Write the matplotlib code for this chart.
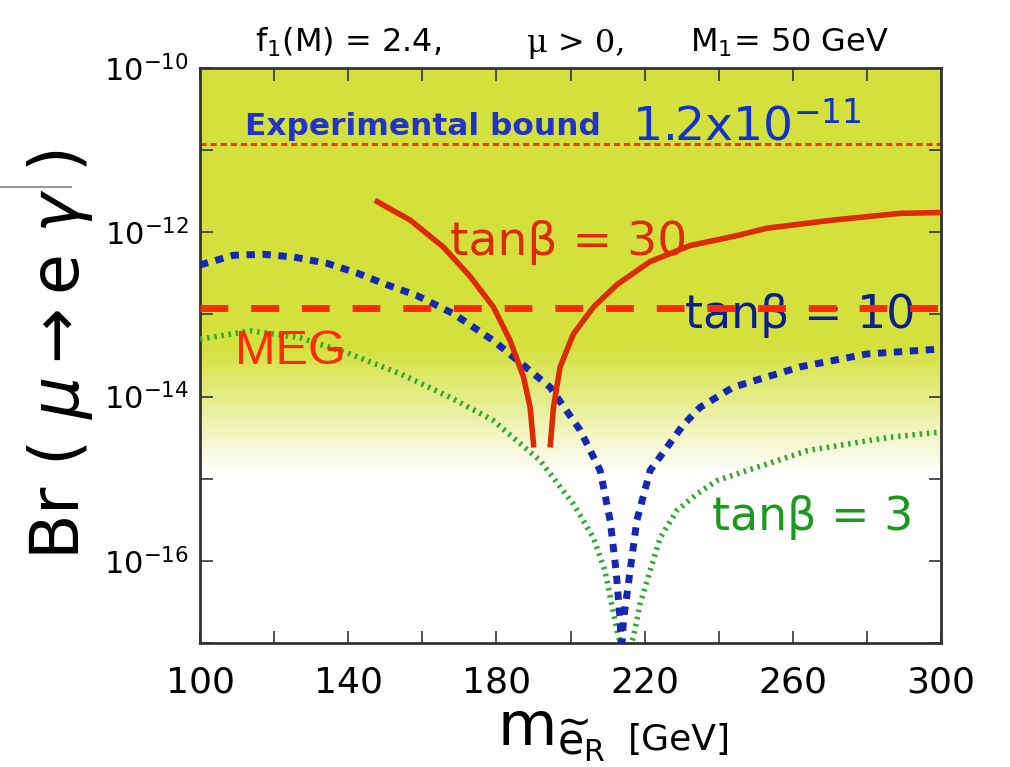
import numpy as np
import matplotlib
matplotlib.use('Agg')
import matplotlib.pyplot as plt
from matplotlib.colors import LinearSegmentedColormap
from matplotlib.lines import Line2D

plt.rcParams['font.family'] = ['DejaVu Sans']
plt.rcParams['mathtext.fontset'] = 'custom'
plt.rcParams['mathtext.rm'] = 'DejaVu Sans'
plt.rcParams['mathtext.it'] = 'DejaVu Sans:italic'

# tanb = 30 (dos ramas, rojo)
m30_izq = [147.2, 156.7, 165.7, 172.9, 179.2, 183.7, 187.3, 189.1, 190.1]
br30_izq = [2.45e-12, 1.41e-12, 6.6e-13, 2.9e-13, 1.23e-13, 4.8e-14, 1.74e-14, 7.4e-15, 2.4e-15]
m30_der = [194.5, 195.4, 197.2, 200.8, 206.2, 212.5, 221.5, 232.3, 244.9, 253.0, 270.9, 288.9, 300.0]
br30_der = [2.4e-15, 7.4e-15, 2.3e-14, 5.8e-14, 1.23e-13, 2.3e-13, 4.4e-13, 6.9e-13, 9.1e-13,
            1.12e-12, 1.41e-12, 1.7e-12, 1.74e-12]

# tanb = 10 (azul)
m10 = [100, 109, 117.1, 125.2, 134.2, 142.3, 150.4, 158.5, 168.4, 179.2, 194.5, 202.6, 208, 210.7,
       212.3, 213.4, 213.8, 214.3, 216.1, 217.9, 221.5, 226, 230.4, 235, 243.9, 262, 280, 300]
br10 = [4.0e-13, 5.25e-13, 5.4e-13, 5.0e-13, 4.2e-13, 3.2e-13, 2.3e-13, 1.7e-13, 1.02e-13, 4.8e-14,
        1.3e-14, 3.9e-15, 1.26e-15, 3.1e-16, 7.6e-17, 1.9e-17, 8e-18, 1.9e-17, 7.6e-17, 3.1e-16,
        1.26e-15, 2.4e-15, 4.5e-15, 7.4e-15, 1.3e-14, 2.3e-14, 3.3e-14, 3.8e-14]

# tanb = 3 (verde)
m3 = [100, 113.5, 127, 140.5, 154, 167.5, 179.2, 191.8, 200.8, 206.2, 209.3, 211.1, 212.9, 215.2,
      217, 218.8, 221.5, 224.2, 228.7, 234.1, 239.5, 264, 286.2, 300]
br3 = [5.0e-14, 6.3e-14, 5.2e-14, 3.3e-14, 1.9e-14, 9.8e-15, 5.1e-15, 1.66e-15, 4.9e-16, 1.9e-16,
       7.6e-17, 3.0e-17, 1.2e-17, 6.3e-18, 1.2e-17, 3.0e-17, 7.6e-17, 1.9e-16, 4.1e-16, 6.5e-16,
       9.5e-16, 2.2e-15, 3.2e-15, 3.7e-15]

cota_exp = 1.2e-11
cota_meg = 1.2e-13

xticks = [100, 140, 180, 220, 260, 300]
yticks = [1e-16, 1e-14, 1e-12, 1e-10]
yticklabels = [r'$10^{-16}$', r'$10^{-14}$', r'$10^{-12}$', r'$10^{-10}$']

fig = plt.figure(figsize=(10.1, 7.67), dpi=100)
ax = fig.add_axes([200/1010, 1-643/767, 741/1010, 575/767])

# fondo amarillo que se desvanece hacia abajo
ly = np.linspace(-17, -10, 400)
frac = np.clip((ly - (-14.95)) / ((-13.4) - (-14.95)), 0, 1)
cmap = LinearSegmentedColormap.from_list('fondo', ['#ffffff', '#d4e13c'])
ax.imshow(frac[::-1].reshape(-1, 1), cmap=cmap, aspect='auto', extent=[0, 1, 0, 1],
          transform=ax.transAxes, zorder=0, vmin=0, vmax=1)

ax.set_yscale('log')
ax.set_xlim(100, 300)
ax.set_ylim(1e-17, 1e-10)

ax.axhline(cota_exp, color='#ff3300', lw=2.2, ls=(0, (2.0, 1.3)), zorder=2)
ax.plot(m3, br3, color='#33a833', lw=4, ls=(0, (0.45, 0.85)), zorder=3)
ax.plot(m10, br10, color='#1428b4', lw=5, ls=(0, (1.2, 1.1)), zorder=4)
ax.plot(m30_izq, br30_izq, color='#dd2a00', lw=4, solid_capstyle='butt', zorder=5)
ax.plot(m30_der, br30_der, color='#dd2a00', lw=4, solid_capstyle='butt', zorder=5)
ax.axhline(cota_meg, color='#ff2a00', lw=5, ls=(0, (4, 3.3)), zorder=6)

ax.text(167.5, 10**-12.28, 'tanβ = 30', color='#dd2a00', fontsize=34, zorder=7)
ax.text(230.9, 10**-13.17, 'tanβ = 10', color='#0c1f8f', fontsize=33, zorder=5)
ax.text(238.2, 10**-15.63, 'tanβ = 3', color='#1a9a1a', fontsize=33, zorder=7)
ax.text(109.4, 10**-13.6, 'MEG', color='#ff2a00', fontsize=35, family='Liberation Sans', zorder=7)
ax.text(112.1, 10**-10.82, 'Experimental bound', color='#2233cc', fontsize=22.5,
        fontweight='bold', zorder=7)
ax.text(216.5, 10**-10.88, r'1.2x10$^{\mathregular{-11}}$', color='#1133cc', fontsize=34, zorder=7)

ax.set_xticks(xticks)
ax.set_xticks(np.arange(100, 301, 20), minor=True)
ax.set_xticklabels([str(v) for v in xticks])
ax.set_yticks(yticks)
ax.set_yticklabels(yticklabels)
ax.set_yticks([10.0**k for k in range(-17, -9)], minor=True)
ax.yaxis.set_minor_formatter(matplotlib.ticker.NullFormatter())
ax.tick_params(which='both', direction='in', top=True, right=True, length=9, width=1.2, color='#333333')
ax.tick_params(axis='x', labelsize=26, pad=16)
ax.tick_params(axis='y', labelsize=22, pad=8)
for s in ax.spines.values():
    s.set_linewidth(2)
    s.set_color('#333333')

fig.text(255/1010, 1-52/767, r'f$_\mathregular{1}$(M) = 2.4,', fontsize=23, va='baseline')
fig.text(527/1010, 1-52/767, 'μ > 0,', fontsize=23, family='DejaVu Serif', va='baseline')
fig.text(690/1010, 1-52/767, r'M$_\mathregular{1}$= 50 GeV', fontsize=23, va='baseline')

fig.text(60/1010, 1-355/767, r'Br ( $\mu$$\rightarrow$e $\gamma$ )', fontsize=48, rotation=90,
         ha='center', va='center')
fig.text(497/1010, 1-745/767, r'm$_{\widetilde{\mathrm{e}}_{\mathrm{R}}}$', fontsize=44, va='baseline')
fig.text(628/1010, 1-750/767, '[GeV]', fontsize=26, va='baseline')

fig.add_artist(Line2D([0, 0.07], [1-187/767, 1-187/767], color='#999999', lw=1.5))

fig.savefig('out.png', dpi=100)
